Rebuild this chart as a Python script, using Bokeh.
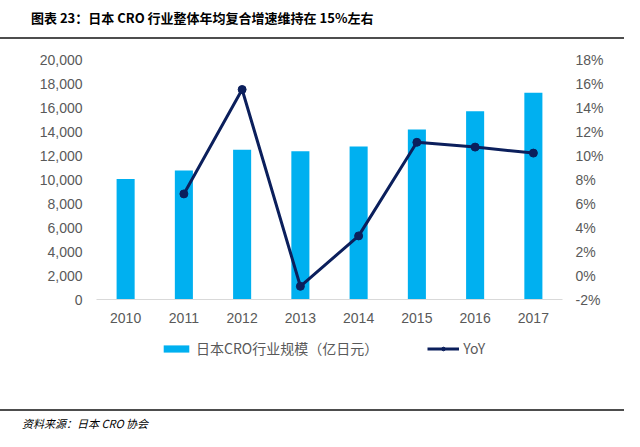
from bokeh.plotting import figure
from bokeh.layouts import column
from bokeh.models import (Range1d, LinearAxis, Legend, LegendItem, Div,
                          NumeralTickFormatter, FixedTicker, CustomJSTickFormatter)
from bokeh.embed import file_html
from bokeh.resources import INLINE

# ---- data ----
years = ["2010", "2011", "2012", "2013", "2014", "2015", "2016", "2017"]
market = [10050, 10750, 12480, 12360, 12750, 14170, 15690, 17220]
yoy_years = ["2011", "2012", "2013", "2014", "2015", "2016", "2017"]
yoy = [6.8, 15.5, -0.9, 3.3, 11.1, 10.7, 10.2]
left_ticks = [0, 2000, 4000, 6000, 8000, 10000, 12000, 14000, 16000, 18000, 20000]
right_ticks = [-2, 0, 2, 4, 6, 8, 10, 12, 14, 16, 18]
title_text = "图表 23：日本 CRO 行业整体年均复合增速维持在 15%左右"
source_text = "资料来源：日本 CRO 协会"
bar_label = "日本CRO行业规模（亿日元）"
line_label = "YoY"

BAR_COLOR = "#00B0F0"
LINE_COLOR = "#0B1F5C"
TICK_COLOR = "#595959"
RULE_COLOR = "#4D4D4D"
CJK = "Noto Sans CJK SC"
LAT = "Liberation Sans"
W = 624

# ---- header ----
top = Div(width=W, height=45, margin=0, text=(
    '<div style="position:relative;width:624px;height:45px;overflow:hidden;">'
    '<div style="position:absolute;left:31px;top:9px;line-height:18px;white-space:nowrap;'
    "font-family:'Noto Sans CJK SC';font-size:13px;font-weight:bold;color:#000;\">"
    + title_text + '</div>'
    '<div style="position:absolute;left:0;top:36.5px;width:624px;height:2.5px;'
    'background:' + RULE_COLOR + ';"></div></div>'))

# ---- main chart ----
p = figure(width=W, height=285, x_range=years, y_range=Range1d(0, 20000),
           output_backend="svg", toolbar_location=None,
           min_border_left=96, min_border_right=62, min_border_top=14, min_border_bottom=31)
p.extra_y_ranges = {"pct": Range1d(-2, 18)}
p.outline_line_color = None
p.xgrid.grid_line_color = None
p.ygrid.grid_line_color = None

bars = p.vbar(x=years, top=market, width=0.31, fill_color=BAR_COLOR, line_color=None)
line = p.line(x=yoy_years, y=yoy, y_range_name="pct", line_color=LINE_COLOR, line_width=3)
dots = p.scatter(x=yoy_years, y=yoy, y_range_name="pct", size=8,
                 fill_color=LINE_COLOR, line_color=LINE_COLOR)

ya = p.yaxis[0]
ya.ticker = FixedTicker(ticks=left_ticks)
ya.formatter = NumeralTickFormatter(format="0,0")
ra = LinearAxis(y_range_name="pct")
ra.ticker = FixedTicker(ticks=right_ticks)
ra.formatter = CustomJSTickFormatter(code="return tick.toFixed(0) + '%';")
p.add_layout(ra, "right")
xa = p.xaxis[0]

for ax, standoff in ((ya, 14), (ra, 13), (xa, 13)):
    ax.major_tick_line_color = None
    ax.minor_tick_line_color = None
    ax.major_tick_out = 0
    ax.major_tick_in = 0
    ax.major_label_standoff = standoff
    ax.major_label_text_font = LAT
    ax.major_label_text_font_size = "14px"
    ax.major_label_text_color = TICK_COLOR
ya.axis_line_color = None
ra.axis_line_color = None
xa.axis_line_color = "#D9D9D9"

# ---- legend strip (hidden proxy renderers carry the legend styles) ----
lf = figure(width=W, height=70, x_range=Range1d(0, 1), y_range=Range1d(0, 1),
            output_backend="svg", toolbar_location=None, min_border=0,
            x_axis_type=None, y_axis_type=None)
lf.outline_line_color = None
lf.xgrid.grid_line_color = None
lf.ygrid.grid_line_color = None
proxy_x = [0.5]
proxy_y = [0.5]
lg_bar = lf.vbar(x=proxy_x, top=proxy_y, width=0.1, fill_color=BAR_COLOR,
                 line_color=None, visible=False)
lg_line = lf.line(x=proxy_x, y=proxy_y, line_color=LINE_COLOR, line_width=3, visible=False)
lg_dot = lf.scatter(x=proxy_x, y=proxy_y, size=8, fill_color=LINE_COLOR,
                    line_color=LINE_COLOR, visible=False)
legend = Legend(items=[LegendItem(label=bar_label, renderers=[lg_bar]),
                       LegendItem(label=line_label, renderers=[lg_line, lg_dot])],
                orientation="horizontal", location=(64, 42),
                padding=0, margin=0, spacing=49, label_standoff=4,
                glyph_width=32, glyph_height=9, label_height=14,
                border_line_color=None, background_fill_alpha=0,
                label_text_font=CJK, label_text_font_size="14px",
                label_text_color=TICK_COLOR)
lf.add_layout(legend, "center")

# ---- footer: rule, source ----
bot = Div(width=W, height=31, margin=0, text=(
    '<div style="position:relative;width:624px;height:31px;overflow:hidden;">'
    '<div style="position:absolute;left:0;top:9px;width:624px;height:1.5px;'
    'background:' + RULE_COLOR + ';"></div>'
    '<div style="position:absolute;left:22px;top:16px;line-height:14px;white-space:nowrap;'
    "font-family:'Noto Sans CJK SC';font-size:11px;font-style:italic;color:#000;\">"
    + source_text + '</div></div>'))

layout = column(top, p, lf, bot, spacing=0)
open("out.html", "w").write(file_html(layout, INLINE))
